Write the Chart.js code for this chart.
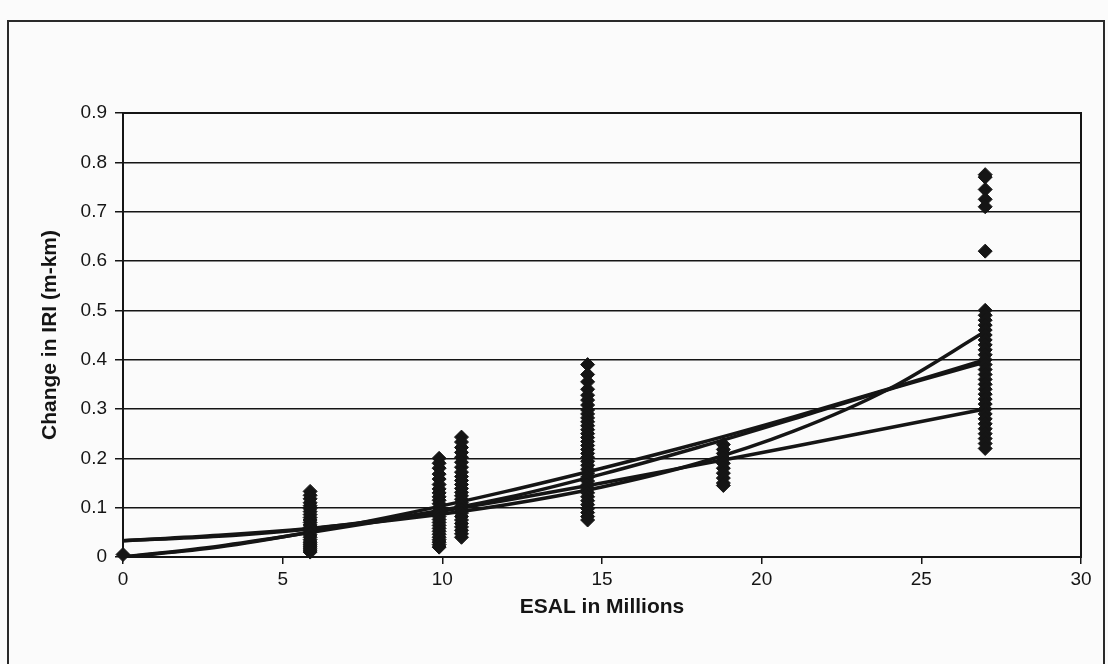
<!DOCTYPE html>
<html>
<head>
<meta charset="utf-8">
<script src="https://cdn.jsdelivr.net/npm/chart.js@4/dist/chart.umd.min.js"></script>
<style>
  html, body { margin: 0; padding: 0; background: #fbfbfb; }
  #wrap { position: relative; width: 1108px; height: 664px; overflow: hidden; }
  #frame { position: absolute; left: 7px; top: 20px; width: 1094px; height: 700px;
           border: 2px solid #2a2a2a; border-bottom: none; }
  canvas { position: absolute; left: 0; top: 0; }
</style>
</head>
<body>
<div id="wrap">
  <div id="frame"></div>
  <canvas id="chart" width="1108" height="664"></canvas>
</div>
<script>
  // measured points, one array per ESAL column
  const esalCols = [0, 5.86, 9.9, 10.6, 14.55, 18.8, 27];
  const col0 = [0.005];
  const col1 = [0.133, 0.125, 0.118, 0.11, 0.104, 0.098, 0.092, 0.086, 0.08, 0.075, 0.07, 0.065,
                0.06, 0.055, 0.05, 0.045, 0.04, 0.035, 0.03, 0.026, 0.022, 0.018, 0.014, 0.01];
  const col2 = [0.2, 0.19, 0.18, 0.168, 0.158, 0.147, 0.138, 0.13, 0.122, 0.115, 0.108, 0.1, 0.094,
                0.088, 0.082, 0.076, 0.07, 0.064, 0.058, 0.052, 0.046, 0.04, 0.035, 0.03, 0.025, 0.02];
  const col3 = [0.243, 0.233, 0.222, 0.212, 0.202, 0.192, 0.182, 0.172, 0.163, 0.155, 0.147, 0.139,
                0.131, 0.124, 0.117, 0.11, 0.103, 0.096, 0.089, 0.082, 0.075, 0.068, 0.061, 0.054, 0.047, 0.04];
  const col4 = [0.39, 0.37, 0.355, 0.34, 0.328, 0.318, 0.308, 0.298, 0.29, 0.282, 0.274, 0.266, 0.258,
                0.25, 0.242, 0.234, 0.226, 0.218, 0.21, 0.202, 0.194, 0.186, 0.178, 0.17, 0.162, 0.154,
                0.146, 0.138, 0.13, 0.122, 0.114, 0.106, 0.098, 0.09, 0.082, 0.075];
  const col5 = [0.228, 0.218, 0.21, 0.2, 0.19, 0.18, 0.17, 0.16, 0.15, 0.145];
  const col6 = [0.775, 0.77, 0.745, 0.725, 0.71, 0.62, 0.5, 0.49, 0.48, 0.47, 0.46, 0.45, 0.44, 0.43,
                0.42, 0.41, 0.4, 0.39, 0.38, 0.37, 0.36, 0.35, 0.34, 0.33, 0.32, 0.31, 0.3, 0.29, 0.28,
                0.27, 0.26, 0.25, 0.24, 0.23, 0.22];
  const iriCols = [col0, col1, col2, col3, col4, col5, col6];

  // trend curves
  const trendX = [0, 3, 6, 9, 12, 15, 18, 21, 24, 27];
  const trendExpo = [0.033, 0.044, 0.059, 0.079, 0.106, 0.142, 0.19, 0.255, 0.341, 0.457];
  const trendPow = [0.0, 0.02, 0.052, 0.09, 0.133, 0.18, 0.23, 0.284, 0.341, 0.40];
  const trendPoly = [0.033, 0.042, 0.058, 0.084, 0.12, 0.168, 0.222, 0.28, 0.34, 0.395];
  const trendLow = [0.0, 0.022, 0.051, 0.082, 0.115, 0.15, 0.187, 0.224, 0.262, 0.30];

  const xTicks = [0, 5, 10, 15, 20, 25, 30];
  const yTicks = [0, 0.1, 0.2, 0.3, 0.4, 0.5, 0.6, 0.7, 0.8, 0.9];

  const ink = "#151515";
  const FONT = "'Liberation Sans', Arial, sans-serif";

  const points = [];
  esalCols.forEach((x, i) => iriCols[i].forEach(y => points.push({ x: x, y: y })));

  function trendSet(ys) {
    return {
      type: "line",
      data: trendX.map((x, i) => ({ x: x, y: ys[i] })),
      borderColor: ink,
      borderWidth: 3.5,
      pointRadius: 0,
      tension: 0.4,
      cubicInterpolationMode: "monotone",
      fill: false,
    };
  }

  // plot area frame (Excel style box)
  const plotBox = {
    id: "plotBox",
    afterDraw(chart) {
      const { ctx, chartArea: a } = chart;
      ctx.save();
      ctx.strokeStyle = ink;
      ctx.lineWidth = 2;
      ctx.strokeRect(a.left, a.top, a.right - a.left, a.bottom - a.top);
      ctx.restore();
    },
  };

  new Chart(document.getElementById("chart"), {
    type: "scatter",
    data: {
      datasets: [
        {
          data: points,
          pointStyle: "rectRot",
          pointRadius: 7,
          backgroundColor: ink,
          borderColor: ink,
          borderWidth: 1,
          clip: false,
        },
        trendSet(trendExpo),
        trendSet(trendPow),
        trendSet(trendPoly),
        trendSet(trendLow),
      ],
    },
    options: {
      responsive: false,
      animation: false,
      layout: { padding: { top: 113, right: 27, left: 0, bottom: 0 } },
      plugins: { legend: { display: false }, tooltip: { enabled: false } },
      scales: {
        x: {
          type: "linear",
          min: 0,
          max: 30,
          afterBuildTicks(s) { s.ticks = xTicks.map(v => ({ value: v })); },
          ticks: { color: ink, font: { family: FONT, size: 19 }, padding: 4, maxRotation: 0 },
          grid: { drawOnChartArea: false, color: ink, lineWidth: 1.5, tickLength: 7 },
          border: { color: ink, width: 2 },
          title: {
            display: true,
            text: "ESAL in Millions",
            color: ink,
            font: { family: FONT, size: 21, weight: "bold" },
            padding: { top: 0, bottom: 44 },
          },
          afterFit(s) { s.height = 664 - 557; },
        },
        y: {
          min: 0,
          max: 0.9,
          afterBuildTicks(s) { s.ticks = yTicks.map(v => ({ value: v })); },
          ticks: { color: ink, font: { family: FONT, size: 19 }, padding: 8 },
          grid: { color: ink, lineWidth: 1.5, tickLength: 8 },
          border: { color: ink, width: 2 },
          title: {
            display: true,
            text: "Change in IRI (m-km)",
            color: ink,
            font: { family: FONT, size: 21, weight: "bold" },
            padding: { top: 38, bottom: 0 },
          },
          afterFit(s) { s.width = 123; },
        },
      },
    },
    plugins: [plotBox],
  });
</script>
</body>
</html>
